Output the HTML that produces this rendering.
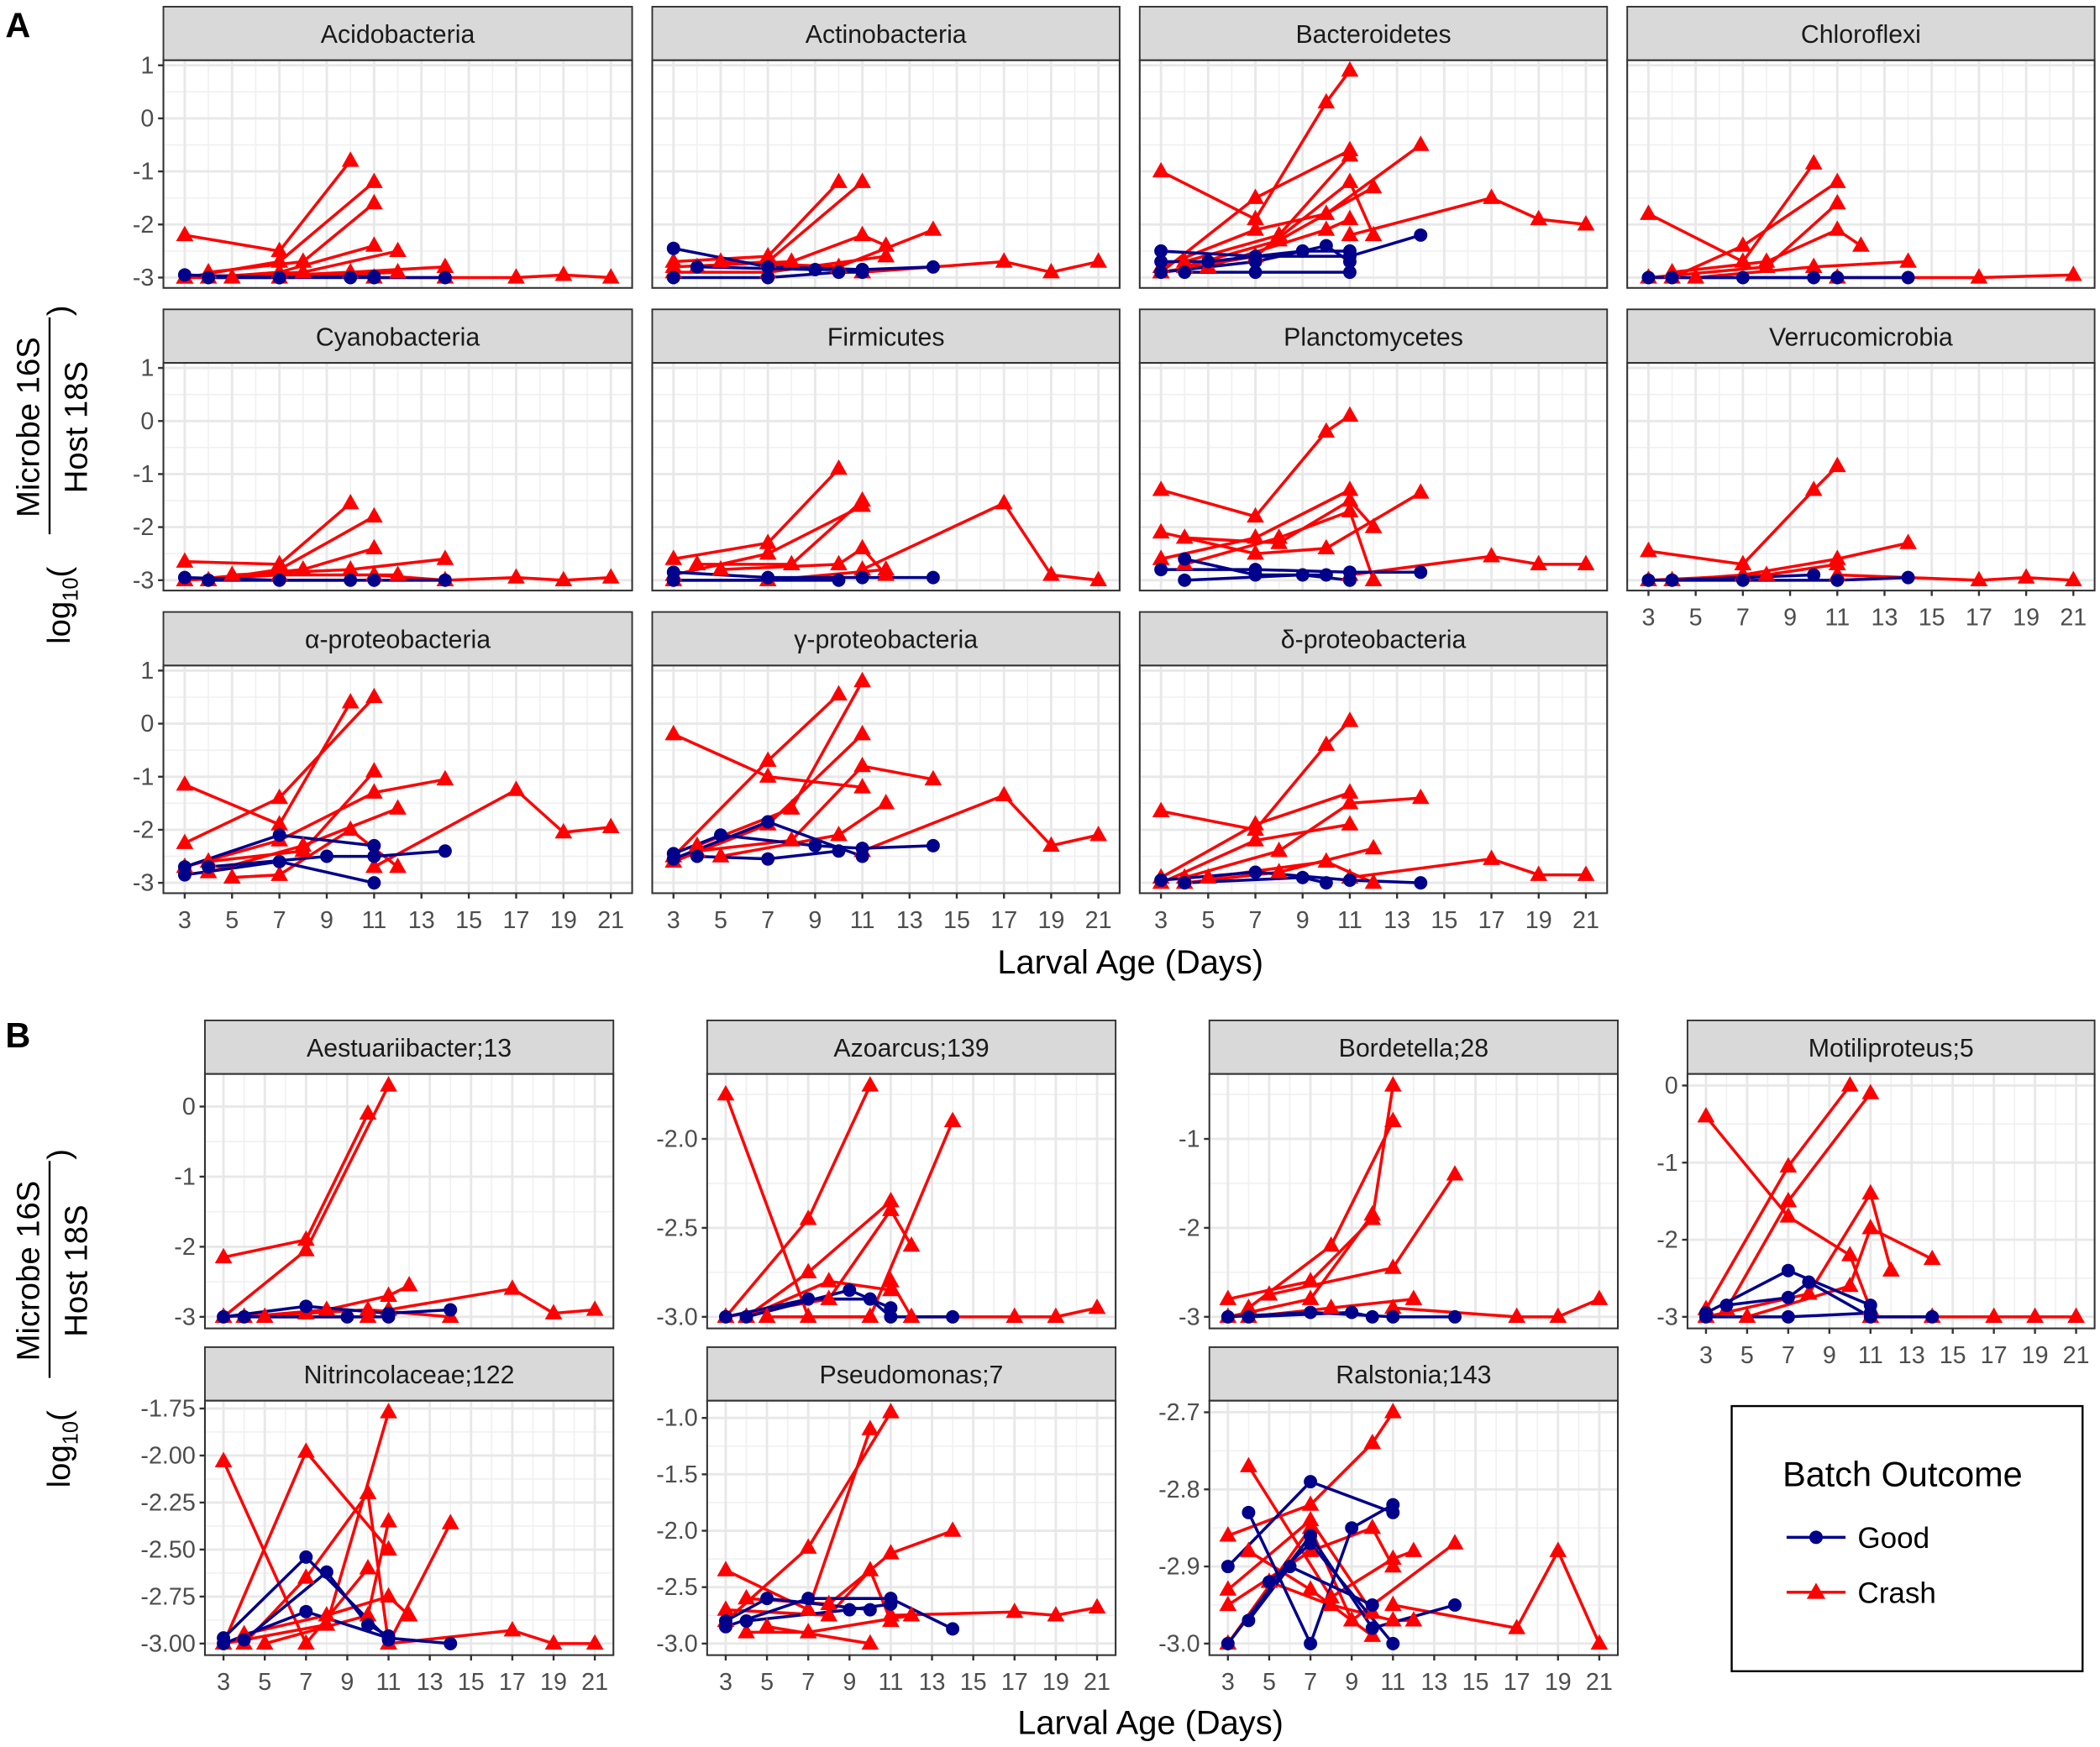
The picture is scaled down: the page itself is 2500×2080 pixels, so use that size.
<!DOCTYPE html>
<html><head><meta charset="utf-8"><title>Microbe 16S / Host 18S by larval age</title>
<style>html,body{margin:0;padding:0;background:#fff;}svg{display:block;}text{font-family:"Liberation Sans",sans-serif;}</style>
</head><body>
<svg id="chart" xmlns="http://www.w3.org/2000/svg" width="2500" height="2080" viewBox="0 0 1568 1304.6">
<rect x="0" y="0" width="1568" height="1305" fill="#fff"/>
<text x="4" y="28" font-size="26" font-weight="bold" fill="#000">A</text>
<text x="4" y="782" font-size="26" font-weight="bold" fill="#000">B</text>
<text x="844" y="727" font-size="25" text-anchor="middle" fill="#000">Larval Age (Days)</text>
<text x="859" y="1295" font-size="25" text-anchor="middle" fill="#000">Larval Age (Days)</text>
<g transform="translate(40,355) rotate(-90)">
  <text x="-126" y="12" font-size="24" fill="#000">log<tspan font-size="16" dy="6">10</tspan><tspan dy="-6">(</tspan></text>
  <text x="36" y="-11" font-size="24" text-anchor="middle" fill="#000">Microbe 16S</text>
  <line x1="-44" y1="-3" x2="118" y2="-3" stroke="#000" stroke-width="1.5"/>
  <text x="36" y="25" font-size="24" text-anchor="middle" fill="#000">Host 18S</text>
  <text x="119" y="12" font-size="24" fill="#000">)</text>
</g>
<g transform="translate(40,985) rotate(-90)">
  <text x="-126" y="12" font-size="24" fill="#000">log<tspan font-size="16" dy="6">10</tspan><tspan dy="-6">(</tspan></text>
  <text x="36" y="-11" font-size="24" text-anchor="middle" fill="#000">Microbe 16S</text>
  <line x1="-44" y1="-3" x2="118" y2="-3" stroke="#000" stroke-width="1.5"/>
  <text x="36" y="25" font-size="24" text-anchor="middle" fill="#000">Host 18S</text>
  <text x="119" y="12" font-size="24" fill="#000">)</text>
</g>
<g>
  <rect x="1293" y="1050" width="262" height="198" fill="#fff" stroke="#000" stroke-width="1.5"/>
  <text x="1331" y="1110" font-size="26" fill="#000">Batch Outcome</text>
  <g>
    <line x1="1334" y1="1148" x2="1378" y2="1148" stroke="#00008B" stroke-width="2.2"/>
    <circle cx="1356" cy="1148" r="5" fill="#00008B"/>
    <text x="1387" y="1156" font-size="22" fill="#000">Good</text>
  </g>
  <g>
    <line x1="1334" y1="1189" x2="1378" y2="1189" stroke="#FF0000" stroke-width="2.2"/>
    <polygon points="1356,1182 1349,1194 1363,1194" fill="#FF0000"/>
    <text x="1387" y="1197" font-size="22" fill="#000">Crash</text>
  </g>
</g>
<g id="plots"></g>
</svg>
<script>
// ---------- data: each series = [outcome, days, values] (G = Good, C = Crash) ----------
const dayTicks = [3,5,7,9,11,13,15,17,19,21];
const ticksA = [1,0,-1,-2,-3];

const sAcido = [
 ["C",[3,7,10],[-2.2,-2.5,-0.8]],["C",[3,7,11],[-3,-2.7,-1.2]],["C",[4,8,11],[-2.9,-2.7,-1.6]],
 ["C",[4,7,11],[-3,-2.9,-2.4]],["C",[3,8,12],[-3,-2.9,-2.5]],["C",[5,10,14],[-3,-2.9,-2.8]],
 ["C",[11,14,17,19,21],[-3,-3,-3,-2.95,-3]],["C",[3,7,12],[-3,-3,-2.9]],
 ["G",[3,7,10,11,14],[-2.95,-3,-3,-3,-3]],["G",[4,7,11],[-3,-3,-2.98]]];
const sActino = [
 ["C",[3,7,10],[-2.7,-2.6,-1.2]],["C",[4,7,11],[-2.8,-2.7,-1.2]],["C",[3,8,11,12],[-2.8,-2.7,-2.2,-2.4]],
 ["C",[5,10,14],[-2.7,-2.8,-2.1]],["C",[11,17,19,21],[-2.9,-2.7,-2.9,-2.7]],["C",[3,7,12],[-2.9,-2.9,-2.6]],
 ["G",[3,7,11,14],[-2.45,-2.8,-2.85,-2.8]],["G",[3,7,10,11],[-3,-3,-2.9,-2.9]],["G",[4,9,11],[-2.8,-2.85,-2.85]]];
const sBactero = [
 ["C",[3,7,10,11],[-1,-1.9,0.3,0.9]],["C",[3,7,11],[-2.9,-1.5,-0.6]],["C",[4,8,11],[-2.7,-2.2,-0.7]],
 ["C",[3,7,10,14],[-2.8,-2.1,-1.8,-0.5]],["C",[4,8,12],[-2.8,-2.3,-1.3]],["C",[3,7,11,12],[-2.9,-2.6,-1.2,-2.2]],
 ["C",[11,17,19,21],[-2.2,-1.5,-1.9,-2]],["C",[5,10,11],[-2.8,-2.1,-1.9]],
 ["G",[3,7,11,14],[-2.5,-2.6,-2.6,-2.2]],["G",[3,7,10,11],[-2.9,-2.7,-2.4,-2.7]],["G",[4,7,11],[-2.9,-2.9,-2.9]],["G",[3,5,9,11],[-2.7,-2.7,-2.5,-2.5]]];
const sChloro = [
 ["C",[3,7,10],[-1.8,-2.7,-0.85]],["C",[4,7,11],[-3,-2.4,-1.2]],["C",[3,8,11],[-3,-2.8,-1.6]],
 ["C",[4,8,11,12],[-2.9,-2.7,-2.1,-2.4]],["C",[5,10,14],[-3,-2.8,-2.7]],["C",[11,17,21],[-3,-3,-2.95]],
 ["G",[3,7,11,14],[-3,-3,-3,-3]],["G",[4,10],[-3,-3]]];
const sCyano = [
 ["C",[3,7,10],[-2.65,-2.7,-1.55]],["C",[4,7,11],[-3,-2.8,-1.8]],["C",[3,8,11],[-3,-2.8,-2.4]],
 ["C",[5,10,14],[-2.9,-2.8,-2.6]],["C",[11,14,17,19,21],[-2.9,-3,-2.95,-3,-2.95]],["C",[3,7,12],[-3,-2.9,-2.9]],
 ["G",[3,7,11,14],[-2.95,-3,-3,-3]],["G",[4,10],[-3,-3]]];
const sFirmi = [
 ["C",[3,7,10],[-2.6,-2.3,-0.9]],["C",[4,8,11],[-2.7,-2.7,-1.5]],["C",[3,7,11],[-2.9,-2.5,-1.6]],
 ["C",[5,10,11,12],[-2.8,-2.7,-2.4,-2.9]],["C",[11,17,19,21],[-2.8,-1.55,-2.9,-3]],["C",[3,7,12],[-3,-3,-2.8]],
 ["G",[3,7,11,14],[-2.85,-2.95,-2.95,-2.95]],["G",[3,10],[-3,-3]]];
const sPlancto = [
 ["C",[3,7,10,11],[-1.3,-1.8,-0.2,0.1]],["C",[3,7,11],[-2.6,-2.2,-1.3]],["C",[4,8,11,12],[-2.2,-2.3,-1.5,-2]],
 ["C",[3,7,10,14],[-2.1,-2.5,-2.4,-1.35]],["C",[4,8,11,12],[-2.7,-2.2,-1.7,-3]],["C",[11,17,19,21],[-2.9,-2.55,-2.7,-2.7]],
 ["G",[3,7,11,14],[-2.8,-2.8,-2.85,-2.85]],["G",[4,7,10],[-2.6,-2.9,-2.9]],["G",[4,9,11],[-3,-2.9,-3]]];
const sVerruco = [
 ["C",[3,7,10,11],[-2.45,-2.7,-1.3,-0.85]],["C",[4,7,11,14],[-3,-2.9,-2.6,-2.3]],["C",[3,8,11],[-3,-2.9,-2.7]],
 ["C",[11,17,19,21],[-2.9,-3,-2.95,-3]],
 ["G",[3,7,11,14],[-3,-3,-3,-2.95]],["G",[4,10],[-3,-2.9]]];
const sAlpha = [
 ["C",[3,7,10],[-1.15,-1.9,0.4]],["C",[3,7,11],[-2.25,-1.4,0.5]],["C",[4,8,11],[-2.6,-2.4,-0.9]],
 ["C",[3,7,11,14],[-2.7,-2.2,-1.3,-1.05]],["C",[4,8,12],[-2.8,-2.3,-1.6]],["C",[11,17,19,21],[-2.7,-1.25,-2.05,-1.95]],
 ["C",[5,7,10,12],[-2.9,-2.85,-2,-2.7]],
 ["G",[3,7,11],[-2.7,-2.1,-2.3]],["G",[3,7,11],[-2.85,-2.6,-3]],["G",[4,9,11,14],[-2.7,-2.5,-2.5,-2.4]]];
const sGamma = [
 ["C",[3,7,11],[-0.2,-1.0,-1.2]],["C",[3,7,10],[-2.5,-0.7,0.55]],["C",[4,8,11],[-2.3,-1.6,0.8]],
 ["C",[3,7,11],[-2.6,-1.9,-0.2]],["C",[4,8,11,14],[-2.4,-2.2,-0.8,-1.05]],["C",[5,10,12],[-2.5,-2.1,-1.5]],
 ["C",[11,17,19,21],[-2.4,-1.35,-2.3,-2.1]],
 ["G",[3,5,9,11,14],[-2.45,-2.1,-2.3,-2.35,-2.3]],["G",[3,7,11],[-2.55,-1.85,-2.5]],["G",[4,7,10],[-2.5,-2.55,-2.4]]];
const sDelta = [
 ["C",[3,7,10,11],[-1.65,-2,-0.4,0.05]],["C",[3,7,11],[-2.9,-1.9,-1.3]],["C",[4,8,11,14],[-2.9,-2.4,-1.5,-1.4]],
 ["C",[3,7,11],[-3,-2.2,-1.9]],["C",[4,8,12],[-3,-2.8,-2.35]],["C",[11,17,19,21],[-2.9,-2.55,-2.85,-2.85]],
 ["C",[5,10,12],[-2.9,-2.6,-3]],
 ["G",[3,7,11,14],[-2.95,-2.8,-2.95,-3]],["G",[4,9,10],[-3,-2.9,-3]]];

const sAestu = [
 ["C",[3,7,10],[-2.15,-1.9,-0.1]],["C",[3,7,11],[-3,-2.05,0.3]],["C",[4,8,11,12],[-3,-2.9,-2.7,-2.55]],
 ["C",[3,7,10,14],[-3,-2.95,-2.9,-3]],["C",[11,17,19,21],[-2.9,-2.6,-2.95,-2.9]],["C",[5,10],[-3,-3]],
 ["G",[3,7,11,14],[-3,-2.85,-2.95,-2.9]],["G",[4,9,11],[-3,-3,-3]]];
const sAzo = [
 ["C",[3,7,10],[-1.75,-3,-3]],["C",[3,7,10],[-3,-2.45,-1.7]],["C",[4,7,11],[-3,-2.75,-2.35]],
 ["C",[3,8,11,12],[-3,-2.9,-2.4,-2.6]],["C",[5,10,14],[-3,-3,-1.9]],["C",[11,12,17,19,21],[-2.8,-3,-3,-3,-2.95]],
 ["C",[4,8,11],[-3,-2.8,-2.85]],
 ["G",[3,7,10,11,14],[-3,-2.9,-2.9,-3,-3]],["G",[4,9,11],[-3,-2.85,-2.95]]];
const sBorde = [
 ["C",[3,7,10,11],[-2.8,-2.6,-1.9,-0.4]],["C",[4,8,11],[-2.9,-2.2,-0.8]],["C",[3,7,10],[-3,-2.8,-1.85]],
 ["C",[5,11,14],[-2.75,-2.45,-1.4]],["C",[4,8,12],[-3,-2.9,-2.8]],["C",[11,17,19,21],[-2.9,-3,-3,-2.8]],
 ["G",[3,7,11,14],[-3,-2.95,-3,-3]],["G",[4,9,10],[-3,-2.95,-3]]];
const sMoti = [
 ["C",[3,7,10,11],[-0.4,-1.7,-2.2,-2.9]],["C",[3,7,10],[-2.9,-1.05,0]],["C",[4,7,11],[-2.9,-1.5,-0.1]],
 ["C",[3,8,11,12],[-3,-2.7,-1.4,-2.4]],["C",[5,10,11,14],[-3,-2.6,-1.85,-2.25]],["C",[11,14,17,19,21],[-3,-3,-3,-3,-3]],
 ["G",[3,7,11],[-2.95,-2.4,-2.85]],["G",[4,7,8,11,14],[-2.85,-2.75,-2.55,-3,-3]],["G",[3,7,11],[-3,-3,-2.95]]];
const sNitri = [
 ["C",[3,7,10],[-2.03,-3,-2.6]],["C",[3,7,11],[-3,-1.98,-2.5]],["C",[4,7,10,11],[-3,-2.65,-2.2,-3]],
 ["C",[3,8,11],[-3,-2.9,-1.77]],["C",[5,10,11],[-3,-2.85,-2.35]],["C",[4,8,11,12],[-2.95,-2.85,-2.75,-2.85]],
 ["C",[11,14],[-3,-2.36]],["C",[11,17,19,21],[-3,-2.93,-3,-3]],
 ["G",[3,7,11],[-2.97,-2.54,-2.98]],["G",[3,7,11,14],[-3,-2.83,-2.97,-3]],["G",[4,8,10,11],[-2.98,-2.62,-2.9,-2.96]]];
const sPseudo = [
 ["C",[3,7,10],[-2.35,-2.7,-1.1]],["C",[3,7,11],[-2.8,-2.15,-0.95]],["C",[4,8,11,14],[-2.6,-2.65,-2.2,-2]],
 ["C",[3,8,10,11],[-2.7,-2.75,-2.35,-2.8]],["C",[5,10],[-2.85,-3]],["C",[11,17,19,21],[-2.75,-2.72,-2.75,-2.68]],
 ["C",[4,7,12],[-2.9,-2.9,-2.75]],
 ["G",[3,7,11,14],[-2.85,-2.6,-2.6,-2.87]],["G",[4,9,11],[-2.8,-2.7,-2.65]],["G",[3,5,10],[-2.8,-2.6,-2.7]]];
const sRalst = [
 ["C",[3,7,10,11],[-2.86,-2.82,-2.74,-2.7]],["C",[4,8,11,12],[-2.77,-2.94,-2.89,-2.88]],["C",[3,7,10,11],[-2.95,-2.88,-2.85,-2.9]],
 ["C",[3,7,9,14],[-3,-2.85,-2.97,-2.87]],["C",[4,7,10],[-2.88,-2.93,-2.99]],["C",[5,8,11,12],[-2.92,-2.95,-2.97,-2.97]],
 ["C",[11,17,19,21],[-2.95,-2.98,-2.88,-3]],["C",[3,7,10],[-2.93,-2.84,-2.96]],
 ["G",[3,7,11],[-2.9,-2.79,-2.83]],["G",[4,7,9,11],[-2.83,-3,-2.85,-2.82]],["G",[3,7,10,14],[-3,-2.86,-2.98,-2.95]],
 ["G",[5,7,11],[-2.92,-2.87,-3]],["G",[4,6,10],[-2.97,-2.9,-2.95]]];

const ticksAestu = [0,-1,-2,-3];
const ticksAzo = [-2,-2.5,-3];
const ticksBorde = [-1,-2,-3];
const ticksMoti = [0,-1,-2,-3];
const ticksNitri = [-1.75,-2,-2.25,-2.5,-2.75,-3];
const ticksPseudo = [-1,-1.5,-2,-2.5,-3];
const ticksRalst = [-2.7,-2.8,-2.9,-3];

// ---------- layout ----------
const NS = "http://www.w3.org/2000/svg";
const root = document.getElementById('plots');
function el(tag, attrs, parent){ const e=document.createElementNS(NS,tag); for(const k in attrs) e.setAttribute(k,attrs[k]); (parent||root).appendChild(e); return e; }
function extent(list){ let lo=Infinity,hi=-Infinity; list.forEach(s=>s[2].forEach(v=>{lo=Math.min(lo,v);hi=Math.max(hi,v);})); const p=(hi-lo)*0.05; return [lo-p,hi+p]; }
const dayDomain = [3-0.9, 21+0.9];

const allA = [].concat(sAcido,sActino,sBactero,sChloro,sCyano,sFirmi,sPlancto,sVerruco,sAlpha,sGamma,sDelta);
const domA = extent(allA);
const colA=[122,487,851,1215], rowA=[5,231,457];
const colB=[153,528,903,1260], rowB=[762,1006];
const panels = [
 {n:"Acidobacteria",s:sAcido,x:colA[0],y:rowA[0],w:350,h:170,t:ticksA,dec:0,yl:true,xl:false,dom:domA},
 {n:"Actinobacteria",s:sActino,x:colA[1],y:rowA[0],w:349,h:170,t:ticksA,dec:0,yl:false,xl:false,dom:domA},
 {n:"Bacteroidetes",s:sBactero,x:colA[2],y:rowA[0],w:349,h:170,t:ticksA,dec:0,yl:false,xl:false,dom:domA},
 {n:"Chloroflexi",s:sChloro,x:colA[3],y:rowA[0],w:349,h:170,t:ticksA,dec:0,yl:false,xl:false,dom:domA},
 {n:"Cyanobacteria",s:sCyano,x:colA[0],y:rowA[1],w:350,h:170,t:ticksA,dec:0,yl:true,xl:false,dom:domA},
 {n:"Firmicutes",s:sFirmi,x:colA[1],y:rowA[1],w:349,h:170,t:ticksA,dec:0,yl:false,xl:false,dom:domA},
 {n:"Planctomycetes",s:sPlancto,x:colA[2],y:rowA[1],w:349,h:170,t:ticksA,dec:0,yl:false,xl:false,dom:domA},
 {n:"Verrucomicrobia",s:sVerruco,x:colA[3],y:rowA[1],w:349,h:170,t:ticksA,dec:0,yl:false,xl:true,dom:domA},
 {n:"α-proteobacteria",s:sAlpha,x:colA[0],y:rowA[2],w:350,h:170,t:ticksA,dec:0,yl:true,xl:true,dom:domA},
 {n:"γ-proteobacteria",s:sGamma,x:colA[1],y:rowA[2],w:349,h:170,t:ticksA,dec:0,yl:false,xl:true,dom:domA},
 {n:"δ-proteobacteria",s:sDelta,x:colA[2],y:rowA[2],w:349,h:170,t:ticksA,dec:0,yl:false,xl:true,dom:domA},
 {n:"Aestuariibacter;13",s:sAestu,x:colB[0],y:rowB[0],w:305,h:190,t:ticksAestu,dec:0,yl:true,xl:false},
 {n:"Azoarcus;139",s:sAzo,x:colB[1],y:rowB[0],w:305,h:190,t:ticksAzo,dec:1,yl:true,xl:false},
 {n:"Bordetella;28",s:sBorde,x:colB[2],y:rowB[0],w:305,h:190,t:ticksBorde,dec:0,yl:true,xl:false},
 {n:"Motiliproteus;5",s:sMoti,x:colB[3],y:rowB[0],w:304,h:190,t:ticksMoti,dec:0,yl:true,xl:true},
 {n:"Nitrincolaceae;122",s:sNitri,x:colB[0],y:rowB[1],w:305,h:190,t:ticksNitri,dec:2,yl:true,xl:true},
 {n:"Pseudomonas;7",s:sPseudo,x:colB[1],y:rowB[1],w:305,h:190,t:ticksPseudo,dec:1,yl:true,xl:true},
 {n:"Ralstonia;143",s:sRalst,x:colB[2],y:rowB[1],w:305,h:190,t:ticksRalst,dec:1,yl:true,xl:true}
];

function slug(s){ return s.toLowerCase().replace(/α/g,'alpha').replace(/γ/g,'gamma').replace(/δ/g,'delta').replace(/[^a-z0-9]+/g,'-').replace(/-+$/,''); }

panels.forEach(p=>{
  const dom = p.dom || extent(p.s);
  const px0 = p.x, pw = p.w, sy = p.y, py0 = p.y+40, ph = p.h;
  const X = d => px0 + (d-dayDomain[0])/(dayDomain[1]-dayDomain[0])*pw;
  const Y = v => py0 + ph - (v-dom[0])/(dom[1]-dom[0])*ph;
  const g = el('g',{});
  
  
  const strip = el('rect',{x:px0,y:sy,width:pw,height:40,fill:'#D9D9D9',stroke:'#333',"stroke-width":1.2},g);
  
  
  const st = el('text',{x:px0+pw/2,y:sy+27,"font-size":19,"text-anchor":"middle",fill:'#1A1A1A'},g);
  st.textContent = p.n;
  
  
  el('rect',{x:px0,y:py0,width:pw,height:ph,fill:'#fff'},g);
  for(let d=2; d<=22; d+=2){ if(d>dayDomain[0]&&d<dayDomain[1]) el('line',{x1:X(d),x2:X(d),y1:py0,y2:py0+ph,stroke:'#F0F0F0',"stroke-width":1},g); }
  const step = p.t[0]-p.t[1];
  for(let v=p.t[p.t.length-1]-step/2; v<dom[1]; v+=step){ if(v>dom[0]) el('line',{x1:px0,x2:px0+pw,y1:Y(v),y2:Y(v),stroke:'#F0F0F0',"stroke-width":1},g); }
  dayTicks.forEach(d=>el('line',{x1:X(d),x2:X(d),y1:py0,y2:py0+ph,stroke:'#E8E8E8',"stroke-width":1.8},g));
  p.t.forEach(v=>el('line',{x1:px0,x2:px0+pw,y1:Y(v),y2:Y(v),stroke:'#E8E8E8',"stroke-width":1.8},g));
  p.s.forEach((s,i)=>{
    const col = s[0]==='G' ? '#00008B' : '#FF0000';
    const pts = s[1].map((d,j)=>X(d).toFixed(1)+','+Y(s[2][j]).toFixed(1)).join(' ');
    const pl = el('polyline',{points:pts,fill:'none',stroke:col,"stroke-width":2.2},g);
    
    
  });
  p.s.forEach((s,i)=>{
    s[1].forEach((d,j)=>{
      const cx = X(d), cy = Y(s[2][j]);
      let m;
      if(s[0]==='G'){
        m = el('circle',{cx:cx,cy:cy,r:5,fill:'#00008B'},g);
        
      } else {
        m = el('polygon',{points:`${cx},${cy-7} ${cx-6.5},${cy+4.5} ${cx+6.5},${cy+4.5}`,fill:'#FF0000'},g);
        
      }
      
    });
  });
  const bd = el('rect',{x:px0,y:py0,width:pw,height:ph,fill:'none',stroke:'#333',"stroke-width":1.3},g);
  
  
  if(p.yl){
    p.t.forEach(v=>{
      el('line',{x1:px0-4,x2:px0,y1:Y(v),y2:Y(v),stroke:'#333',"stroke-width":1.5},g);
      const t = el('text',{x:px0-7,y:Y(v)+6,"font-size":18,"text-anchor":"end",fill:'#4D4D4D'},g);
      t.textContent = v.toFixed(p.dec);
      
      
    });
  }
  if(p.xl){
    dayTicks.forEach(d=>{
      el('line',{x1:X(d),x2:X(d),y1:py0+ph,y2:py0+ph+4,stroke:'#333',"stroke-width":1.5},g);
      const t = el('text',{x:X(d),y:py0+ph+26,"font-size":18,"text-anchor":"middle",fill:'#4D4D4D'},g);
      t.textContent = d;
      
      
    });
  }
});
</script>
</body></html>
